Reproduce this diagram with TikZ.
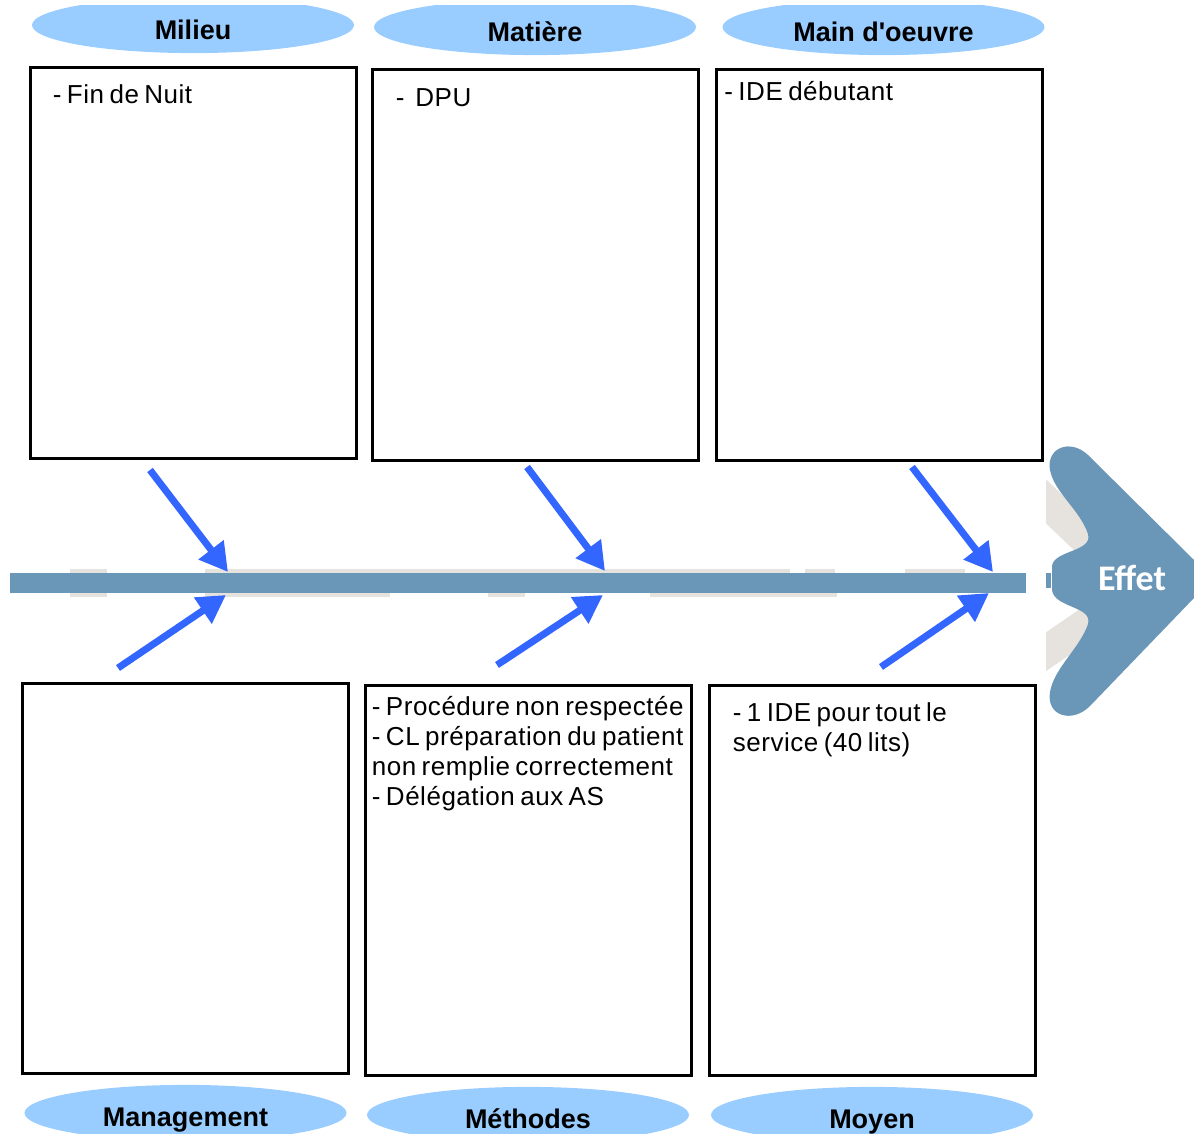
\documentclass[tikz,border=0pt]{standalone}
\usepackage{fontspec}
\setmainfont{Liberation Sans}[Ligatures=TeXOff]
\newfontfamily\itemfont{Liberation Sans}[LetterSpace=2,WordSpace=0.7]
\newfontfamily\effetfont{Carlito}
\usetikzlibrary{positioning,shapes.geometric,arrows.meta}
\definecolor{headblue}{HTML}{99CCFF}
\definecolor{spineblue}{HTML}{6A96B8}
\definecolor{arrowblue}{HTML}{3366FF}
\definecolor{ghostgrey}{HTML}{E6E3DE}
\tikzset{
  causebox/.style={draw, line width=1.5pt, minimum width=163pt, minimum height=195pt, inner sep=0pt},
  head/.style={ellipse, fill=headblue, minimum width=161pt, minimum height=28pt, inner sep=0pt,
    text height=14pt, text depth=0pt, font=\fontsize{13.5}{16}\selectfont\bfseries},
  item/.style={align=left, inner sep=0pt, font=\itemfont\fontsize{13}{15}\selectfont},
  branch/.style={draw=arrowblue, line width=3.5pt, -{Triangle[length=14pt,width=15pt]}},
  effettext/.style={text=white, font=\effetfont\fontsize{18}{21}\selectfont\bfseries},
}

\begin{document}
\begin{tikzpicture}[x=0.5pt,y=-0.5pt]
  \useasboundingbox (0,0) rectangle (1194,1134);
  % cause boxes
  \node[causebox] (milieu) at (193,263) {};
  \node[causebox] (matiere) at (535,265) {};
  \node[causebox] (main) at (879.5,265) {};
  \node[causebox] (management) at (185.5,878) {};
  \node[causebox] (methodes) at (528,880) {};
  \node[causebox] (moyen) at (872,880) {};
  % headings
  \begin{scope}
    \clip (0,6) rectangle (1194,1134);
    \node[head, above=6.5pt of milieu] (milieuhead) {Milieu};
    \node[head, above=6.5pt of matiere] (matierehead) {Matière};
    \node[head, above=6.5pt of main, xshift=2pt] (mainhead) {Main d'oeuvre};
    \node[head, below=5pt of management] (managementhead) {Management};
    \node[head, below=5pt of methodes] (methodeshead) {Méthodes};
    \node[head, below=5pt of moyen] (moyenhead) {Moyen};
  \end{scope}
  % texts
  \node[item, below right=9pt and 12pt of milieu.north west] (milieutext) {- Fin de Nuit};
  \node[item, below right=10pt and 12.5pt of matiere.north west] (matieretext) {-\ \ DPU};
  \node[item, below right=6.2pt and 4.5pt of main.north west] (maintext) {- IDE débutant};
  \node[item, below right=6.2pt and 4pt of methodes.north west] (methodestext)
    {- Procédure non respectée\\- CL préparation du patient\\non remplie correctement\\- Délégation aux AS};
  \node[item, below right=9.5pt and 12.5pt of moyen.north west] (moyentext)
    {- 1 IDE pour tout le\\service (40 lits)};
  % spine
  \fill[ghostgrey] (70,569) rectangle (107,597);
  \fill[ghostgrey] (205,569) rectangle (790,573);
  \fill[ghostgrey] (805,569) rectangle (835,573);
  \fill[ghostgrey] (905,569) rectangle (965,573);
  \fill[ghostgrey] (205,593) rectangle (390,597);
  \fill[ghostgrey] (488,593) rectangle (525,597);
  \fill[ghostgrey] (650,593) rectangle (837,597);
  \fill[spineblue] (10,573) rectangle (1026,593);
  \fill[spineblue] (1046,573) rectangle (1051,588);
  % effect head
  \begin{scope}
    \clip (1046,0) rectangle (1194,1134);
    \draw[ghostgrey, line width=16pt] (1034,490) -- (1095,548);
    \draw[ghostgrey, line width=16pt] (1034,660) -- (1095,618);
  \end{scope}
  \fill[spineblue] (1050,470) .. controls (1046,448) and (1070,438) .. (1088,455)
    -- (1194,560) -- (1194,598) -- (1090,706)
    .. controls (1072,724) and (1046,716) .. (1050,692)
    .. controls (1054,668) and (1080,648) .. (1088,624)
    .. controls (1093,606) and (1054,608) .. (1052,590)
    -- (1052,566)
    .. controls (1054,550) and (1093,552) .. (1088,534)
    .. controls (1080,510) and (1054,492) .. (1050,470) -- cycle;
  \node[effettext] (effet) at (1132,578) {Effet};
  % branches
  \coordinate (milieufrom) at (150,470);
  \coordinate (milieuto) at (228,572);
  \coordinate (matierefrom) at (527,467);
  \coordinate (matiereto) at (605,571);
  \coordinate (mainfrom) at (912,467);
  \coordinate (mainto) at (993,572);
  \coordinate (managementfrom) at (118,668);
  \coordinate (managementto) at (226,595);
  \coordinate (methodesfrom) at (497,665);
  \coordinate (methodesto) at (603,595);
  \coordinate (moyenfrom) at (881,667);
  \coordinate (moyento) at (989,593);
  \draw[branch] (milieufrom) -- (milieuto);
  \draw[branch] (matierefrom) -- (matiereto);
  \draw[branch] (mainfrom) -- (mainto);
  \draw[branch] (managementfrom) -- (managementto);
  \draw[branch] (methodesfrom) -- (methodesto);
  \draw[branch] (moyenfrom) -- (moyento);
\end{tikzpicture}
\end{document}
